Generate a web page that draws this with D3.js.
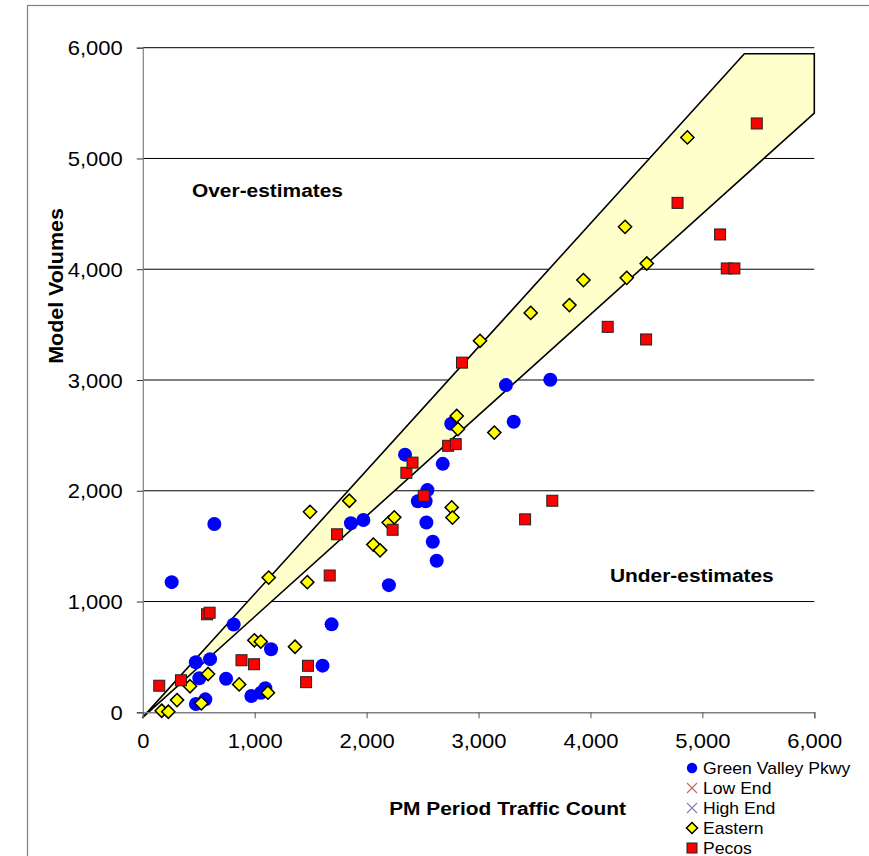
<!DOCTYPE html>
<html>
<head>
<meta charset="utf-8">
<script src="https://cdn.jsdelivr.net/npm/d3@7"></script>
<style>
  html, body { margin: 0; padding: 0; background: #fff; }
  svg { display: block; font-family: "Liberation Sans", Arial, sans-serif; }
</style>
</head>
<body>
<svg id="chart" width="869" height="856"></svg>
<script>
// ---- data (x = PM Period Traffic Count, y = Model Volumes) ----
const greenValley = [
  [258,1175],[639,1700],[812,792],[474,452],[601,480],[505,307],[744,303],
  [1146,569],[970,147],[1056,177],[1095,217],[475,75],[559,117],[1606,421],
  [1687,794],[1860,1707],[1971,1736],[2199,1148],[2343,2326],[2458,1905],
  [2527,1905],[2543,2006],[2534,1713],[2591,1540],[2626,1368],[2680,2243],
  [2756,2605],[3245,2954],[3314,2623],[3641,3002]
];
const eastern = [
  [169,14],[228,5],[306,110],[422,235],[523,81],[583,346],[861,252],[997,650],
  [1054,638],[1118,177],[1125,1216],[1360,592],[1470,1175],[1494,1810],
  [1845,1910],[2060,1514],[2120,1462],[2197,1713],[2247,1760],[2760,1850],
  [2767,1758],[2805,2675],[2816,2557],[3141,2525],[3013,3354],[3466,3606],
  [3812,3676],[3937,3902],[4324,3922],[4309,4383],[4503,4052],[4866,5190]
];
const pecos = [
  [147,240],[341,289],[574,885],[597,899],[882,470],[994,434],[1459,272],
  [1476,420],[1670,1235],[1736,1607],[2232,1648],[2355,2162],[2410,2254],
  [2510,1955],[2728,2406],[2796,2421],[2852,3157],[3416,1742],[3659,1910],
  [4154,3480],[4497,3366],[4778,4599],[5158,4314],[5218,4007],[5286,4007],
  [5486,5316]
];
// band boundaries
const highEnd = [[-5,-50],[5375,5945],[6000,5945]];
const lowEnd  = [[-5,-50],[6000,5410]];
const tickValues = [0,1000,2000,3000,4000,5000,6000];
const legendLabels = ["Green Valley Pkwy","Low End","High End","Eastern","Pecos"];
const xTitle = "PM Period Traffic Count";
const yTitle = "Model Volumes";
const noteOver = "Over-estimates";
const noteUnder = "Under-estimates";

// ---- drawing ----
const svg = d3.select("#chart");
const x = d3.scaleLinear().domain([0,6000]).range([142.8,814.3]);
const y = d3.scaleLinear().domain([0,6000]).range([712.3,47.7]);
const fmt = d3.format(",");
const SX = 1.1; // horizontal text stretch

// outer frame
svg.append("rect").attr("x",27.5).attr("y",5.5).attr("width",900).attr("height",900)
  .attr("fill","none").attr("stroke","#808080").attr("stroke-width",1.2);

// gridlines
svg.append("g").selectAll("line").data(tickValues.filter(d=>d>0)).join("line")
  .attr("x1",x(0)).attr("x2",x(6000))
  .attr("y1",d=>y(d)).attr("y2",d=>y(d))
  .attr("stroke","#000").attr("stroke-width",1);

// band polygon
const bandPts = highEnd.concat(lowEnd.slice().reverse());
svg.append("path")
  .attr("d", d3.line().x(d=>x(d[0])).y(d=>y(d[1]))(bandPts) + "Z")
  .attr("fill","#FFFFCC").attr("stroke","#000").attr("stroke-width",1.6)
  .attr("stroke-linejoin","miter");

// axes
const yAxis = d3.axisLeft(y).tickValues(tickValues).tickFormat(fmt).tickSize(6).tickPadding(4);
const gy = svg.append("g").attr("transform",`translate(${x(0)},0)`).call(yAxis);
gy.select(".domain").attr("stroke","#808080").attr("stroke-width",1.2);
gy.selectAll(".tick line").attr("stroke","#333");
gy.selectAll(".tick text").attr("font-size",20).attr("fill","#000")
  .attr("font-family",'"Liberation Sans", Arial, sans-serif')
  .attr("x",null).attr("dy",null).attr("dominant-baseline",null)
  .attr("transform",function(){ return `translate(-20,7) scale(${SX},1)`; })
  .attr("text-anchor","end");

const xAxis = d3.axisBottom(x).tickValues(tickValues).tickFormat(fmt).tickSize(6).tickPadding(4);
const gx = svg.append("g").attr("transform",`translate(0,${y(0)})`).call(xAxis);
gx.select(".domain").attr("stroke","#808080").attr("stroke-width",1.4);
gx.selectAll(".tick line").attr("stroke","#555");
gx.selectAll(".tick text").attr("font-size",20).attr("fill","#000")
  .attr("font-family",'"Liberation Sans", Arial, sans-serif')
  .attr("y",null).attr("dy",null)
  .attr("transform",`translate(0,36) scale(${SX},1)`)
  .attr("text-anchor","middle");

// series
svg.append("g").selectAll("circle").data(greenValley).join("circle")
  .attr("cx",d=>x(d[0])).attr("cy",d=>y(d[1])).attr("r",7)
  .attr("fill","#0000FF");

const dia = 6.6;
svg.append("g").selectAll("path").data(eastern).join("path")
  .attr("d",d=>{const cx=x(d[0]),cy=y(d[1]);
    return `M${cx},${cy-dia}L${cx+dia},${cy}L${cx},${cy+dia}L${cx-dia},${cy}Z`;})
  .attr("fill","#FFFF00").attr("stroke","#000").attr("stroke-width",1.5);

const sq = 11;
svg.append("g").selectAll("rect").data(pecos).join("rect")
  .attr("x",d=>x(d[0])-sq/2).attr("y",d=>y(d[1])-sq/2)
  .attr("width",sq).attr("height",sq)
  .attr("fill","#FF0000").attr("stroke","#222").attr("stroke-width",1);

// annotations
function stretchedText(g, txt, tx, ty, opts) {
  const t = g.append("text").text(txt)
    .attr("transform",`translate(${tx},${ty}) ${opts.rotate?`rotate(${opts.rotate})`:""} scale(${SX},1)`)
    .attr("font-size",opts.size).attr("font-weight",opts.bold?"bold":"normal")
    .attr("text-anchor",opts.anchor||"start").attr("fill","#000");
  return t;
}
stretchedText(svg, noteOver, 192, 197, {size:19, bold:true});
stretchedText(svg, noteUnder, 610, 582, {size:19, bold:true});
stretchedText(svg, yTitle, 62.5, 286, {size:19.5, bold:true, anchor:"middle", rotate:-90});
stretchedText(svg, xTitle, 626, 815, {size:19, bold:true, anchor:"end"});

// legend
const lg = svg.append("g");
const rowsY = [768,788,808,828,848];
const mx = 692;
lg.append("circle").attr("cx",mx).attr("cy",rowsY[0]).attr("r",5.2).attr("fill","#0000FF");
function xMark(cy,color){
  const s=5;
  lg.append("path").attr("d",`M${mx-s},${cy-s}L${mx+s},${cy+s}M${mx-s},${cy+s}L${mx+s},${cy-s}`)
    .attr("stroke",color).attr("stroke-width",1.1).attr("fill","none");
}
xMark(rowsY[1],"#C86464");
xMark(rowsY[2],"#8C78B4");
const ld=5.5;
lg.append("path").attr("d",`M${mx},${rowsY[3]-ld}L${mx+ld},${rowsY[3]}L${mx},${rowsY[3]+ld}L${mx-ld},${rowsY[3]}Z`)
  .attr("fill","#FFFF00").attr("stroke","#000").attr("stroke-width",1.5);
lg.append("rect").attr("x",mx-5).attr("y",rowsY[4]-5).attr("width",10).attr("height",10)
  .attr("fill","#FF0000").attr("stroke","#222").attr("stroke-width",1);
legendLabels.forEach((lab,i)=>{
  stretchedText(lg, lab, 703, rowsY[i]+6, {size:16});
});
</script>
</body>
</html>
